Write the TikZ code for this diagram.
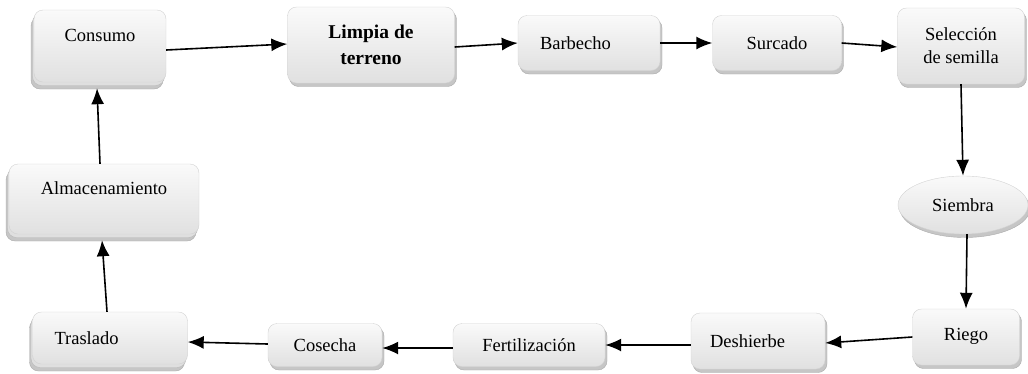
\documentclass[tikz,border=0pt]{standalone}
\usepackage{fontspec}
\setmainfont{Liberation Serif}
\usepackage{tikz}
\usetikzlibrary{shapes.geometric}
\usetikzlibrary{shadows}
\usetikzlibrary{arrows.meta}
\tikzstyle{paso}=[rectangle, rounded corners=9pt, draw=gray!35, thin, top color=gray!4, bottom color=gray!24, font=\fontsize{18.5}{23}\selectfont, align=center, copy shadow={shadow xshift=2pt, shadow yshift=-3.5pt, fill=gray!45, draw=gray!65}]
\tikzstyle{pasodoble}=[rectangle, rounded corners=9pt, draw=gray!35, thin, top color=gray!4, bottom color=gray!24, font=\fontsize{18.5}{23}\selectfont, align=center, copy shadow={shadow xshift=-3pt, shadow yshift=-7pt, fill=gray!45, draw=gray!65}, copy shadow={shadow xshift=-1.5pt, shadow yshift=-3.5pt, fill=gray!25, draw=gray!55}]
\tikzstyle{flecha}=[-{Latex[length=16pt,width=13pt]}, line width=1.6pt]

\begin{document}
\begin{tikzpicture}[x=1pt, y=-1pt]
        \useasboundingbox (0,0) rectangle (1028,373);

        % Fila superior
        \node[pasodoble, minimum width=132pt, minimum height=72pt, text depth=22pt] (cons) at (100,46) {Consumo};
        \node[paso, minimum width=167pt, minimum height=76pt, font=\fontsize{19.5}{26}\selectfont\bfseries] (limp) at (371,45) {Limpia de\\terreno};
        \node[paso, minimum width=142pt, minimum height=55pt, text width=98pt, inner xsep=22pt, align=left] (barb) at (589,43) {Barbecho};
        \node[paso, minimum width=129pt, minimum height=55pt] (surc) at (777,43) {Surcado};
        \node[paso, minimum width=127pt, minimum height=76pt] (sel) at (961,46) {Selección\\de semilla};

        % Lado derecho
        \node[paso, ellipse, minimum width=130pt, minimum height=58pt] (siem) at (963,205) {Siembra};

        % Fila inferior
        \node[paso, minimum width=107pt, minimum height=56pt, text depth=6pt] (rieg) at (966,337) {Riego};
        \node[paso, minimum width=134pt, minimum height=56pt, text width=96pt, inner xsep=19pt, align=left] (desh) at (758,341) {Deshierbe};
        \node[paso, minimum width=152pt, minimum height=43pt] (fert) at (529,345) {Fertilización};
        \node[paso, minimum width=114pt, minimum height=43pt] (cos) at (325,345) {Cosecha};
        \node[pasodoble, minimum width=155pt, minimum height=52pt, text width=111pt, inner xsep=22pt, align=left] (tras) at (110,338) {Traslado};

        % Lado izquierdo
        \node[pasodoble, minimum width=190pt, minimum height=70pt, text depth=22pt] (alm) at (104,199) {Almacenamiento};

        % Conexiones
        \draw[flecha] ([yshift=-4pt]cons.east) -- ([yshift=1pt]limp.west);
        \draw[flecha] ([yshift=-2pt]limp.east) -- (barb.west);
        \draw[flecha] (barb.east) -- (surc.west);
        \draw[flecha] (surc.east) -- ([yshift=-1pt]sel.west);
        \draw[flecha] (sel.south) -- (siem.north);
        \draw[flecha] ([xshift=4pt]siem.south) -- (rieg.north);
        \draw[flecha] (rieg.west) -- ([yshift=-2pt]desh.east);
        \draw[flecha] ([yshift=-4pt]desh.west) -- (fert.east);
        \draw[flecha] ([yshift=-3pt]fert.west) -- ([yshift=-3pt]cos.east);
        \draw[flecha] ([yshift=1pt]cos.west) -- ([yshift=-4pt]tras.east);
        \draw[flecha] ([xshift=-3pt]tras.north) -- ([xshift=-2pt,yshift=-6pt]alm.south);
        \draw[flecha] ([xshift=-4pt]alm.north) -- ([xshift=-3pt,yshift=-6pt]cons.south);
    \end{tikzpicture}
\end{document}
